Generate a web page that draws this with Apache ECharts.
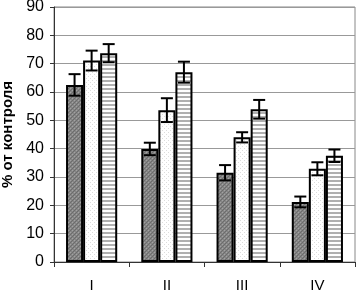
<!DOCTYPE html>
<html><head><meta charset="utf-8">
<script src="https://cdn.jsdelivr.net/npm/echarts@6/dist/echarts.min.js"></script>
<style>html,body{margin:0;padding:0;background:#fff}#c{width:357px;height:292px}</style>
</head><body><div id="c"></div>
<script>
const categories = ['I', 'II', 'III', 'IV'];
const seriesA = [62.5, 39.9, 31.5, 21.2];
const seriesB = [71.1, 53.6, 44.0, 32.9];
const seriesC = [73.7, 67.0, 53.9, 37.5];
const errA = [3.8, 2.2, 2.7, 1.9];
const errB = [3.5, 4.2, 1.8, 2.3];
const errC = [3.2, 3.7, 3.3, 2.2];
const yTicks = [0, 10, 20, 30, 40, 50, 60, 70, 80, 90];

function makePattern(kind) {
  const c = document.createElement('canvas');
  const ctx = c.getContext('2d');
  c.width = 4; c.height = 4;
  if (kind === 'dark') {
    ctx.fillStyle = '#858585'; ctx.fillRect(0, 0, 4, 4);
    ctx.fillStyle = '#6c6c6c';
    ctx.fillRect(0, 0, 1, 1); ctx.fillRect(2, 2, 1, 1); ctx.fillRect(1, 3, 1, 1); ctx.fillRect(3, 1, 1, 1);
    ctx.fillStyle = '#a2a2a2';
    ctx.fillRect(2, 0, 1, 1); ctx.fillRect(0, 2, 1, 1);
  } else if (kind === 'dots') {
    ctx.fillStyle = '#ffffff'; ctx.fillRect(0, 0, 4, 4);
    ctx.fillStyle = '#dcdcdc';
    ctx.fillRect(0, 0, 1, 1); ctx.fillRect(2, 2, 1, 1);
  } else {
    ctx.fillStyle = '#ffffff'; ctx.fillRect(0, 0, 4, 4);
    ctx.fillStyle = '#b0b0b0'; ctx.fillRect(0, 0, 4, 2);
  }
  return { image: c, repeat: 'repeat' };
}

const chart = echarts.init(document.getElementById('c'), null, { renderer: 'canvas' });

function barSeries(data, kind) {
  return {
    type: 'bar', data: data, barGap: '0%', barCategoryGap: '32%',
    itemStyle: { color: makePattern(kind), borderColor: '#000', borderWidth: 2 },
    z: 2
  };
}

function errSeries(vals, errs, idx) {
  return {
    type: 'custom',
    data: vals.map((v, i) => [i, v - errs[i], v + errs[i]]),
    z: 5,
    renderItem: function (params, api) {
      const i = api.value(0);
      const catW = api.size([1, 0])[0];
      const bw = catW * 0.68 / 3;
      const lo = api.coord([i, api.value(1)]);
      const hi = api.coord([i, api.value(2)]);
      const x = lo[0] + (idx - 1) * bw;
      const hw = 6;
      const st = { stroke: '#000', lineWidth: 2 };
      return {
        type: 'group', children: [
          { type: 'line', shape: { x1: x, y1: lo[1], x2: x, y2: hi[1] }, style: st },
          { type: 'line', shape: { x1: x - hw, y1: lo[1], x2: x + hw, y2: lo[1] }, style: st },
          { type: 'line', shape: { x1: x - hw, y1: hi[1], x2: x + hw, y2: hi[1] }, style: st }
        ]
      };
    }
  };
}

chart.setOption({
  animation: false,
  grid: { left: 54, right: 2, top: 7, bottom: 30, show: true, borderColor: '#888', borderWidth: 1, containLabel: false, outerBoundsMode: 'none' },
  xAxis: {
    type: 'category', data: categories,
    axisLine: { lineStyle: { color: '#333', width: 1 } },
    axisTick: { show: true, length: 5, lineStyle: { color: '#333' } },
    axisLabel: { color: '#000', fontFamily: 'Liberation Sans', fontSize: 15, margin: 16 }
  },
  yAxis: {
    type: 'value', min: yTicks[0], max: yTicks[yTicks.length - 1], interval: 10,
    name: '% от контроля', nameLocation: 'middle', nameGap: 38, nameRotate: 90,
    nameTextStyle: { color: '#000', fontFamily: 'Liberation Sans', fontWeight: 'bold', fontSize: 15 },
    axisLine: { show: true, lineStyle: { color: '#333' } },
    axisTick: { show: true, length: 4, lineStyle: { color: '#333' } },
    axisLabel: { color: '#000', fontFamily: 'Liberation Sans', fontSize: 16, margin: 10 },
    splitLine: { show: true, lineStyle: { color: '#999', width: 1 } }
  },
  series: [
    barSeries(seriesA, 'dark'), barSeries(seriesB, 'dots'), barSeries(seriesC, 'stripes'),
    errSeries(seriesA, errA, 0), errSeries(seriesB, errB, 1), errSeries(seriesC, errC, 2)
  ]
});
</script></body></html>
